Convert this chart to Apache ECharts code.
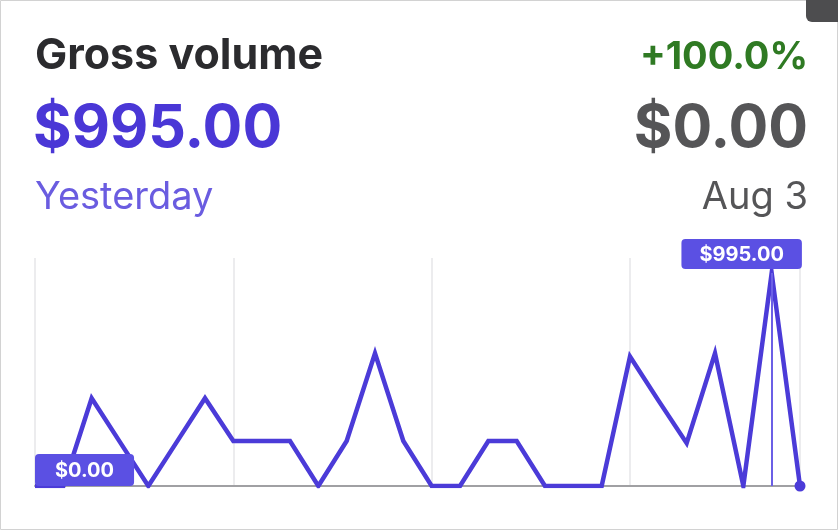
<!DOCTYPE html>
<html>
<head>
<meta charset="utf-8">
<script src="https://cdn.jsdelivr.net/npm/echarts@6/dist/echarts.min.js"></script>
<style>
  html, body { margin: 0; padding: 0; background: #fff; }
  #chart { width: 838px; height: 530px; }
</style>
</head>
<body>
<div id="chart"></div>
<script>
// Data
const categories = ['1','2','3','4','5','6','7','8','9','10','11','12','13','14',
                    '15','16','17','18','19','20','21','22','23','24','25','26','27','28'];
const volumes = [0, 0, 410, 205, 0, 205, 410, 210, 210, 210, 0, 210, 620, 210,
                 0, 0, 210, 210, 0, 0, 0, 605, 400, 200, 620, 0, 995, 0];
const headerTitle = 'Gross volume';
const currentValue = '$995.00';
const currentLabel = 'Yesterday';
const changeText = '+100.0%';
const compareValue = '$0.00';
const compareLabel = 'Aug 3';
const startLabel = '$0.00';
const peakLabel = '$995.00';
const peakIndex = 26;

const FONT = 'Inter, "Noto Sans", sans-serif';
const PURPLE = '#4b3bd8';
const BADGE = '#5b50e3';

const chart = echarts.init(document.getElementById('chart'), null, { renderer: 'canvas' });

const badge = (pad) => ({
  show: true,
  color: '#ffffff',
  fontFamily: FONT,
  fontWeight: 'bold',
  fontSize: 20,
  lineHeight: 21,
  backgroundColor: BADGE,
  borderRadius: 4,
  padding: pad
});

const seriesData = volumes.map((v, i) => {
  const item = { value: v, symbolSize: 0 };
  if (i === 0) {
    item.label = Object.assign(badge([6, 20, 5, 20]), {
      position: 'top', distance: 0, align: 'left', formatter: startLabel
    });
  } else if (i === peakIndex) {
    item.label = Object.assign(badge([5, 18, 4, 18]), {
      position: 'top', distance: 4, offset: [-30, 0], formatter: peakLabel
    });
  } else if (i === volumes.length - 1) {
    item.symbolSize = 11;
  }
  return item;
});

const option = {
  animation: false,
  backgroundColor: '#ffffff',
  title: [
    { text: headerTitle, left: 35, top: 35, padding: 0,
      textStyle: { fontFamily: FONT, fontSize: 43, fontWeight: 'bold', color: '#2b2b2e', lineHeight: 43 } },
    { text: currentValue, left: 33, top: 100, padding: 0,
      textStyle: { fontFamily: FONT, fontSize: 59, fontWeight: 'bold', color: '#4a37d6', lineHeight: 59 } },
    { text: currentLabel, left: 35, top: 179, padding: 0,
      textStyle: { fontFamily: FONT, fontSize: 38, fontWeight: 'normal', color: '#6a5ce0', lineHeight: 38 } },
    { text: changeText, right: 30, top: 39, padding: 0,
      textStyle: { fontFamily: FONT, fontSize: 38, fontWeight: 'bold', color: '#2f7a23', lineHeight: 38 } },
    { text: compareValue, right: 30, top: 100, padding: 0,
      textStyle: { fontFamily: FONT, fontSize: 59, fontWeight: 'bold', color: '#555557', lineHeight: 59 } },
    { text: compareLabel, right: 30, top: 179, padding: 0,
      textStyle: { fontFamily: FONT, fontSize: 38, fontWeight: 'normal', color: '#555557', lineHeight: 38 } }
  ],
  graphic: [
    { type: 'rect', silent: true, z: 100,
      shape: { x: 0.5, y: 0.5, width: 837, height: 529 },
      style: { fill: 'none', stroke: '#d2d2d2', lineWidth: 1 } },
    { type: 'rect', silent: true, z: 101,
      shape: { x: 806, y: -12, width: 40, height: 34, r: 6 },
      style: { fill: '#4d4d4f' } }
  ],
  grid: { left: 35, right: 38, top: 258, bottom: 44 },
  xAxis: {
    type: 'category',
    data: categories,
    boundaryGap: false,
    axisLine: { show: true, lineStyle: { color: '#a0a0a3', width: 2 } },
    axisTick: { show: false },
    axisLabel: { show: false },
    splitLine: {
      show: true,
      interval: (idx) => idx % 7 === 0 || idx === categories.length - 1,
      lineStyle: { color: '#ececee', width: 2 }
    }
  },
  yAxis: {
    type: 'value',
    min: 0,
    max: 1065,
    show: false,
    splitLine: { show: false }
  },
  series: [{
    type: 'line',
    data: seriesData,
    symbol: 'circle',
    showSymbol: true,
    showAllSymbol: true,
    itemStyle: { color: PURPLE },
    lineStyle: { color: PURPLE, width: 4.5, join: 'miter' },
    z: 3,
    markLine: {
      silent: true,
      symbol: ['none', 'none'],
      label: { show: false },
      lineStyle: { color: '#6b5fe6', width: 2, type: 'solid' },
      data: [[{ coord: [peakIndex, 0] }, { coord: [peakIndex, volumes[peakIndex]] }]]
    }
  }]
};

chart.setOption(option);
</script>
</body>
</html>
